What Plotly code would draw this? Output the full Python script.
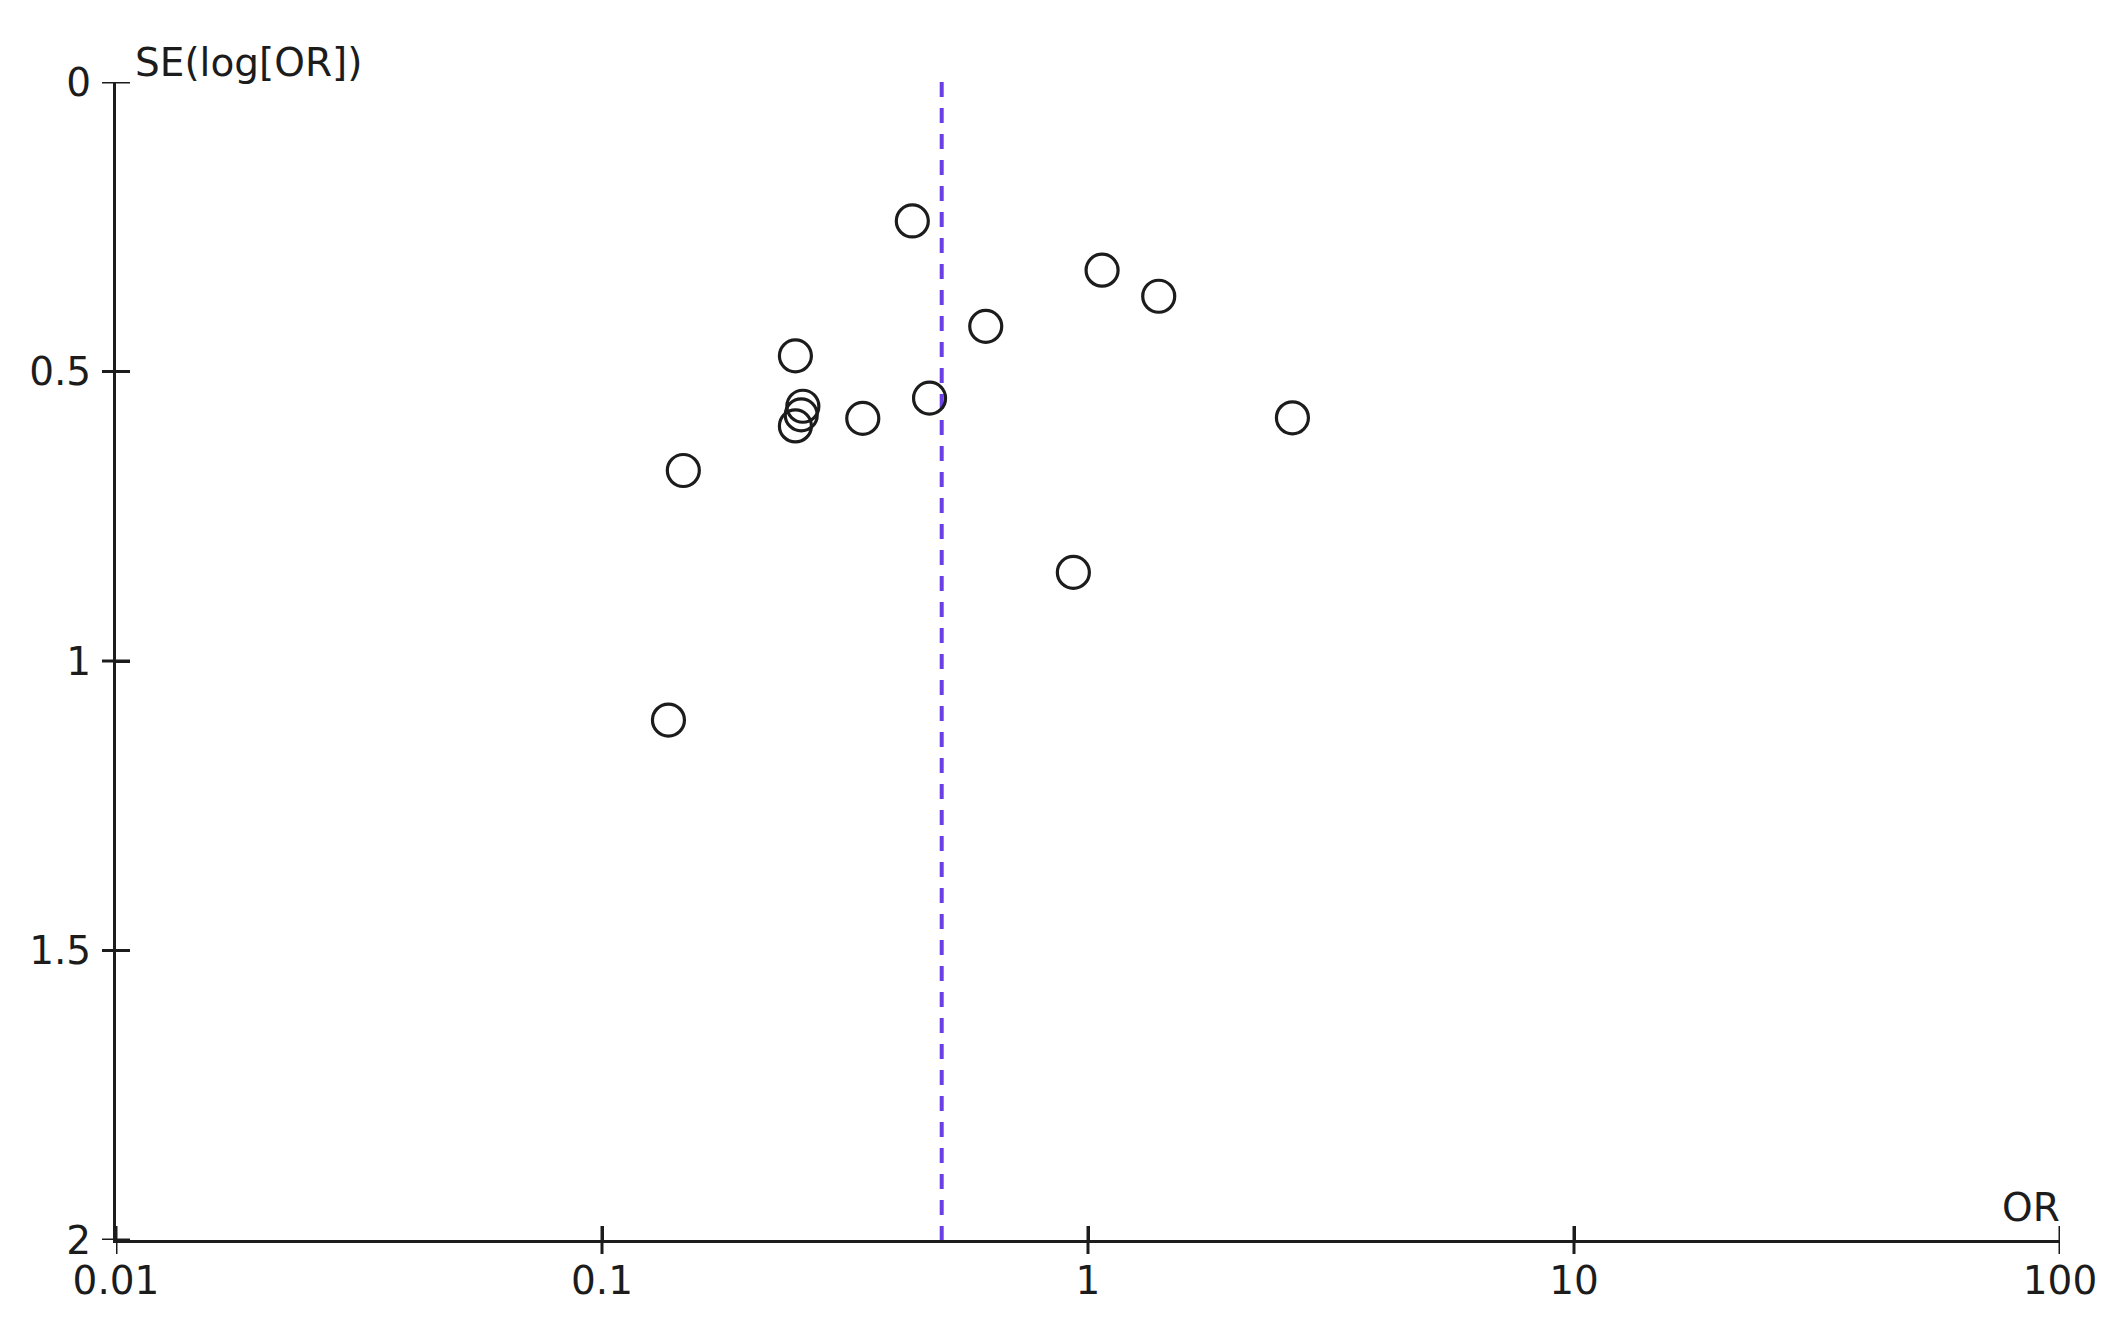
import plotly.graph_objects as go

# Study estimates
odds_ratio = [0.435, 1.069, 1.398, 0.616, 0.250, 0.472, 0.259, 0.257, 0.344, 0.250, 2.634, 0.147, 0.933, 0.137]
se_log_or = [0.240, 0.325, 0.370, 0.422, 0.473, 0.546, 0.560, 0.575, 0.581, 0.594, 0.580, 0.671, 0.847, 1.102]

pooled_or = 0.50
se_range = [0, 2]

x_ticks = [0.01, 0.1, 1, 10, 100]
x_tick_labels = ["0.01", "0.1", "1", "10", "100"]
y_ticks = [0, 0.5, 1, 1.5, 2]
y_tick_labels = ["0", "0.5", "1", "1.5", "2"]

FONT = "DejaVu Sans"
INK = "#1c1c1c"
FS = 39
TICK_HALF = 14

fig = go.Figure()

# pooled estimate line
fig.add_trace(go.Scatter(
    x=[pooled_or, pooled_or], y=se_range, mode="lines",
    line=dict(color="#6B3FE6", width=4, dash="15px,11px"),
    hoverinfo="skip", showlegend=False, cliponaxis=False,
))

fig.add_trace(go.Scatter(
    x=odds_ratio, y=se_log_or, mode="markers",
    marker=dict(symbol="circle-open", size=32, line=dict(width=3.2, color=INK), color=INK),
    showlegend=False,
))

axis_common = dict(showgrid=False, zeroline=False, ticks="inside", ticklen=TICK_HALF,
                   tickwidth=3, tickcolor=INK, showline=True, linewidth=3, linecolor=INK,
                   tickfont=dict(family=FONT, size=FS, color=INK))

# tick marks crossing the axis lines (both sides), one per tick value
tick_shapes = []
for t in x_ticks:
    tick_shapes.append(dict(type="line", xref="x", x0=t, x1=t, yref="paper",
                            ysizemode="pixel", yanchor=0, y0=-TICK_HALF, y1=TICK_HALF,
                            line=dict(color=INK, width=3)))
for t in y_ticks:
    tick_shapes.append(dict(type="line", yref="y", y0=t, y1=t, xref="paper",
                            xsizemode="pixel", xanchor=0, x0=-TICK_HALF, x1=TICK_HALF,
                            line=dict(color=INK, width=3)))

fig.update_layout(
    width=2122, height=1325,
    margin=dict(l=108, r=70, t=74, b=93),
    paper_bgcolor="white", plot_bgcolor="white",
    font=dict(family=FONT, size=FS, color=INK),
    xaxis=dict(type="log", range=[-2, 2], tickvals=x_ticks, ticktext=x_tick_labels,
               ticklabelstandoff=4, **axis_common),
    yaxis=dict(range=[2, 0], tickvals=y_ticks, ticktext=y_tick_labels,
               ticklabelstandoff=14, **axis_common),
    shapes=tick_shapes,
    annotations=[
        dict(text="SE(log[OR])", xref="paper", yref="paper", x=0, y=1,
             xanchor="left", yanchor="bottom", xshift=17, yshift=-5, showarrow=False,
             font=dict(family=FONT, size=FS, color=INK)),
        dict(text="OR", xref="paper", yref="paper", x=1, y=0,
             xanchor="right", yanchor="bottom", xshift=2, yshift=8, showarrow=False,
             font=dict(family=FONT, size=FS, color=INK)),
    ],
)

fig.write_html("out.html")
